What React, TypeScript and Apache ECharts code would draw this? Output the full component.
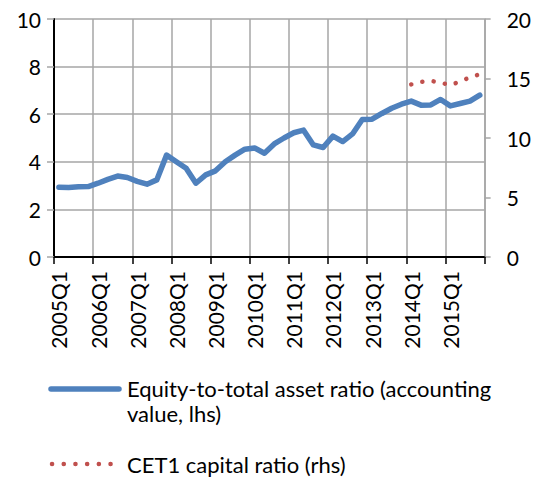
import React, { useEffect, useRef } from "react";
import * as echarts from "echarts";

const years = [2005, 2006, 2007, 2008, 2009, 2010, 2011, 2012, 2013, 2014, 2015];
const quarters = ["Q1", "Q2", "Q3", "Q4"];
const categories: string[] = [];
years.forEach((y) => quarters.forEach((q) => categories.push(`${y}${q}`)));

const equityRatio = [
  2.93, 2.92, 2.95, 2.96,
  3.1, 3.26, 3.4, 3.34,
  3.18, 3.06, 3.24, 4.28,
  4.0, 3.73, 3.1, 3.45,
  3.62, 4.0, 4.28, 4.53,
  4.58, 4.36, 4.75, 5.0,
  5.22, 5.33, 4.71, 4.6,
  5.08, 4.85, 5.17, 5.78,
  5.79, 6.03, 6.25, 6.42,
  6.55, 6.38, 6.39, 6.62,
  6.35, 6.45, 6.55, 6.8,
];

const cet1Ratio: (number | null)[] = [
  null, null, null, null,
  null, null, null, null,
  null, null, null, null,
  null, null, null, null,
  null, null, null, null,
  null, null, null, null,
  null, null, null, null,
  null, null, null, null,
  null, null, null, null,
  14.5, 14.72, 14.8, 14.65,
  14.45, 14.75, 15.1, 15.35,
];

const leftTicks = { min: 0, max: 10, interval: 2 };
const rightTicks = { min: 0, max: 20, interval: 5 };

const legendNames = [
  "Equity-to-total asset ratio (accounting\nvalue, lhs)",
  "CET1 capital ratio (rhs)",
];

const BLUE = "#4F81BD";
const RED = "#C0504D";
const GRID = "#A6A6A6";
const FONT = "Lato";

export default function App() {
  const ref = useRef<HTMLDivElement>(null);
  useEffect(() => {
    if (!ref.current) return;
    const chart = echarts.init(ref.current, null, { renderer: "svg" });
    chart.setOption({
      animation: false,
      backgroundColor: "#ffffff",
      grid: { left: 54, right: 48, top: 19, bottom: 220, containLabel: false },
      xAxis: [
        {
          type: "category",
          data: categories,
          boundaryGap: true,
          axisLine: { show: true, lineStyle: { color: "#000", width: 2 } },
          axisTick: { show: true, interval: 3, length: 7, lineStyle: { color: "#000", width: 1.5 } },
          axisLabel: {
            interval: 3,
            rotate: 90,
            margin: 14,
            fontFamily: FONT,
            fontSize: 21,
            color: "#000",
          },
          splitLine: { show: true, interval: 3, lineStyle: { color: GRID, width: 1.5 } },
        },
        {
          type: "category",
          data: categories,
          position: "top",
          boundaryGap: true,
          axisLine: { show: true, lineStyle: { color: "#000", width: 2 } },
          axisTick: { show: false },
          axisLabel: { show: false },
          splitLine: { show: false },
        },
      ],
      yAxis: [
        {
          type: "value",
          position: "left",
          ...leftTicks,
          axisLine: { show: true, lineStyle: { color: "#000", width: 2 } },
          axisTick: { show: true, length: 7, lineStyle: { color: GRID, width: 1.5 } },
          axisLabel: { margin: 13, fontFamily: FONT, fontSize: 21, color: "#000" },
          splitLine: { show: true, lineStyle: { color: GRID, width: 1.5 } },
        },
        {
          type: "value",
          position: "right",
          ...rightTicks,
          axisLine: { show: true, lineStyle: { color: GRID, width: 1.5 } },
          axisTick: { show: true, length: 6, lineStyle: { color: GRID, width: 1.5 } },
          axisLabel: { margin: 22, fontFamily: FONT, fontSize: 21, color: "#000" },
          splitLine: { show: false },
        },
      ],
      series: [
        {
          name: legendNames[0],
          type: "line",
          data: equityRatio,
          yAxisIndex: 0,
          symbol: "none",
          lineStyle: { color: BLUE, width: 5.5, cap: "round", join: "round" },
          z: 3,
        },
        {
          name: legendNames[1],
          type: "line",
          data: cet1Ratio,
          yAxisIndex: 1,
          symbol: "none",
          connectNulls: false,
          lineStyle: { color: RED, width: 4.5, type: [0.1, 11.3], cap: "round" },
          z: 4,
        },
      ],
      graphic: [
        {
          type: "line",
          shape: { x1: 51, y1: 389, x2: 119, y2: 389 },
          style: { stroke: BLUE, lineWidth: 5.5, lineCap: "round" },
        },
        {
          type: "text",
          x: 127,
          y: 376,
          style: {
            text: legendNames[0],
            font: `22px ${FONT}`,
            fill: "#000",
            lineHeight: 25,
            verticalAlign: "top",
          },
        },
        {
          type: "line",
          shape: { x1: 52, y1: 464, x2: 112, y2: 464 },
          style: { stroke: RED, lineWidth: 4.5, lineCap: "round", lineDash: [0.1, 11.6] },
        },
        {
          type: "text",
          x: 127,
          y: 464,
          style: {
            text: legendNames[1],
            font: `22px ${FONT}`,
            fill: "#000",
            verticalAlign: "middle",
          },
        },
      ],
    });
    return () => chart.dispose();
  }, []);
  return (
    <div
      ref={ref}
      style={{ position: "fixed", left: 0, top: 0, width: 534, height: 477 }}
    />
  );
}
